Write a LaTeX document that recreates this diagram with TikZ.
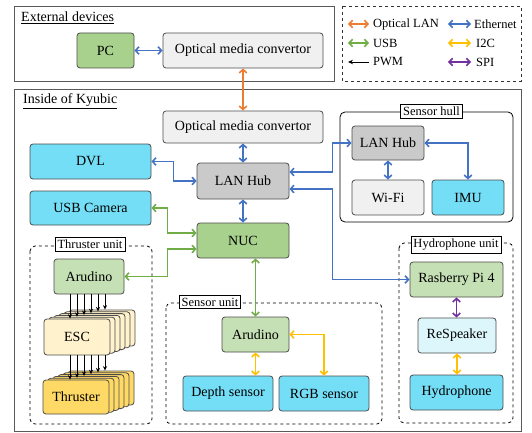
\documentclass[tikz,border=0pt]{standalone}
\usepackage{fontspec}
\setmainfont{Liberation Serif}
\usetikzlibrary{arrows.meta, calc}
\definecolor{optOrange}{HTML}{ED7D31}
\definecolor{ethBlue}{HTML}{4472C4}
\definecolor{usbGreen}{HTML}{70AD47}
\definecolor{iicYellow}{HTML}{FFC000}
\definecolor{spiPurple}{HTML}{7030A0}
\definecolor{darkGreen}{HTML}{A9D18E}
\definecolor{lightGreen}{HTML}{C5E0B4}
\definecolor{paleGray}{HTML}{F0F0F0}
\definecolor{hubGray}{HTML}{CACACA}
\definecolor{sensCyan}{HTML}{74DEF6}
\definecolor{paleCyan}{HTML}{DDF6FC}
\definecolor{escCream}{HTML}{FFF2CC}
\definecolor{thrGold}{HTML}{FFD966}
\newcommand*{\unitframe}[6][dashed]{%
  \draw[frame, #1] (#2) rectangle (#3);
  \node[tag] (#4) at (#5) {#6};
}

\begin{document}
\begin{tikzpicture}[x=1pt, y=-1pt,
  box/.style   = {draw=black!70, rounded corners=3pt, line width=0.8pt,
                  inner sep=0pt, font=\fontsize{14}{16}\selectfont},
  sz/.style 2 args = {minimum width=#1pt, minimum height=#2pt},
  frame/.style = {line width=0.8pt, rounded corners=5pt},
  tag/.style   = {draw, fill=white, line width=0.7pt, inner sep=2.5pt,
                  font=\fontsize{12.5}{14}\selectfont},
  title/.style = {anchor=west, inner sep=2pt, font=\fontsize{14}{16}\selectfont},
  legtxt/.style = {anchor=west, inner sep=1pt, font=\fontsize{12.5}{14}\selectfont},
  link/.style  = {line width=1.6pt,
                  {Straight Barb[length=3.5pt,width=7.5pt]}-{Straight Barb[length=3.5pt,width=7.5pt]}},
  optic/.style = {link, optOrange},
  eth/.style   = {link, ethBlue},
  usb/.style   = {link, usbGreen},
  iic/.style   = {link, iicYellow},
  spi/.style   = {link, spiPurple},
  pwm/.style   = {line width=0.9pt, -{Stealth[length=4.5pt,width=4pt]}},
  ]
  \useasboundingbox (0,0) rectangle (532,433);

  % outer frames
  \draw[line width=0.9pt, black!65] (14,6) rectangle (334,81);
  \draw[line width=0.8pt, dashed, black!80] (342,6) rectangle (521,81);
  \draw[line width=0.9pt, black!65] (14,89) rectangle (521,431);
  \node[title] (extTitle) at (19,18) {\underline{External devices}};
  \node[title] (inTitle) at (21,101) {\underline{Inside of Kyubic}};

  \unitframe[solid]{340,112}{513,222}{hullTag}{431.5,111}{Sensor hull}
  \unitframe{30,246}{152,424}{thrTag}{90,244}{Thruster unit}
  \unitframe{166,303}{382,424}{senTag}{210,302}{Sensor unit}
  \unitframe{399,243}{513,423}{hydTag}{456,245}{Hydrophone unit}

  % legend
  \node[legtxt] (lgOpt) at (372,24) {Optical LAN};
  \node[legtxt] (lgEth) at (473,24) {Ethernet};
  \node[legtxt] (lgUsb) at (372,43) {USB};
  \node[legtxt] (lgIic) at (475,43) {I2C};
  \node[legtxt] (lgPwm) at (372,62) {PWM};
  \node[legtxt] (lgSpi) at (475,62) {SPI};
  \draw[optic] ([xshift=-24pt]lgOpt.west) -- ([xshift=-3pt]lgOpt.west);
  \draw[eth] ([xshift=-25pt]lgEth.west) -- ([xshift=-2pt]lgEth.west);
  \draw[usb] ([xshift=-24pt]lgUsb.west) -- ([xshift=-3pt]lgUsb.west);
  \draw[iic] ([xshift=-27pt]lgIic.west) -- ([xshift=-4pt]lgIic.west);
  \draw[line width=0.9pt, {Stealth[length=5pt,width=4.5pt]}-] ([xshift=-24pt]lgPwm.west) -- ([xshift=-3pt]lgPwm.west);
  \draw[spi] ([xshift=-27pt]lgSpi.west) -- ([xshift=-4pt]lgSpi.west);

  % external devices
  \node[box, sz={57}{35}, fill=darkGreen] (pc) at (105.5,50.5) {PC};
  \node[box, sz={160}{35}, fill=paleGray] (omcExt) at (243,50.5) {Optical media convertor};

  % inside
  \node[box, sz={160}{32}, fill=paleGray] (omcInt) at (243,127) {Optical media convertor};
  \node[box, sz={92}{36}, fill=hubGray] (lanHub) at (243,181) {LAN Hub};
  \node[box, sz={121}{35}, fill=sensCyan] (dvl) at (90.5,161.5) {DVL};
  \node[box, sz={121}{34}, fill=sensCyan] (usbCam) at (90.5,208) {USB Camera};
  \node[box, sz={92}{35}, fill=darkGreen] (nuc) at (243,240.5) {NUC};

  \node[box, sz={72}{34}, fill=hubGray] (hullHub) at (388,143) {LAN Hub};
  \node[box, sz={72}{35}, fill=paleGray] (wifi) at (388,197.5) {Wi-Fi};
  \node[box, sz={72}{35}, fill=sensCyan] (imu) at (468,197.5) {IMU};

  \node[box, sz={70}{35}, fill=lightGreen] (thrArd) at (89,276.5) {Arudino};
  \foreach \i in {5,...,1} {
    \node[box, sz={66}{36}, fill=escCream] (esc\i) at (77+5*\i,337-1.8*\i) {};
    \node[box, sz={66}{34}, fill=thrGold] (thr\i) at (76+5*\i,397-1.8*\i) {};
  }
  \node[box, sz={66}{36}, fill=escCream] (esc0) at (77,337) {ESC};
  \node[box, sz={66}{34}, fill=thrGold] (thr0) at (76,397) {Thruster};

  \node[box, sz={67}{35}, fill=lightGreen] (senArd) at (255.5,334.5) {Arudino};
  \node[box, sz={90}{35}, fill=sensCyan] (depth) at (228,393.5) {Depth sensor};
  \node[box, sz={90}{35}, fill=sensCyan] (rgb) at (324,393.5) {RGB sensor};

  \node[box, sz={93}{35}, fill=lightGreen] (raspi) at (456.5,279.5) {Rasberry Pi 4};
  \node[box, sz={78}{35}, fill=paleCyan] (reSpk) at (457,335.5) {ReSpeaker};
  \node[box, sz={93}{35}, fill=sensCyan] (hydro) at (456.5,392.5) {Hydrophone};

  % connections
  \draw[eth] (pc.east) -- (omcExt.west);
  \draw[optic] (omcExt.south) -- (omcInt.north);
  \draw[eth] (omcInt.south) -- (lanHub.north);
  \draw[eth] (dvl.east) -- ++(22,0) |- (lanHub.west);
  \draw[eth] (lanHub.south) -- (nuc.north);
  \draw[eth] ([yshift=9pt]lanHub.east) -- ++(43,0) |- (hullHub.west);
  \draw[eth] ([yshift=-8pt]lanHub.east) -- ++(43,0) |- (raspi.west);
  \draw[eth] (hullHub.south) -- (wifi.north);
  \draw[eth] (hullHub.east) -| (imu.north);
  \draw[usb] (usbCam.east) -- ++(16,0) |- ([yshift=7.5pt]nuc.west);
  \draw[usb] (thrArd.east) -- ++(43,0) |- ([yshift=-8.5pt]nuc.west);
  \draw[usb] (nuc.south -| senArd.north) -- (senArd.north);
  \draw[iic] (senArd.south) -- (senArd.south |- depth.north);
  \draw[iic] (senArd.east) -| (rgb.north);
  \draw[spi] (raspi.south) -- (raspi.south |- reSpk.north);
  \draw[iic] (reSpk.south) -- (reSpk.south |- hydro.north);

  \foreach \i in {0,...,5} {
    \draw[pwm] ([xshift=-19pt+7*\i pt]thrArd.south) -- ([xshift=-7pt+2*\i pt]esc\i.north);
    \draw[pwm] ([xshift=-7pt+7*\i pt]esc0.south) -- ([xshift=-6pt+2*\i pt]thr\i.north);
  }
\end{tikzpicture}
\end{document}
